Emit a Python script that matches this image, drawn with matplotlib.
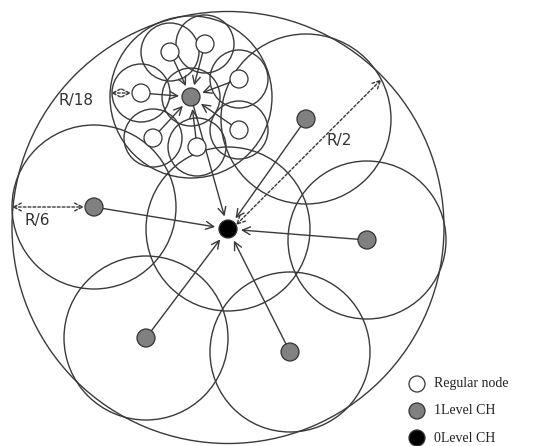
import numpy as np
import matplotlib
matplotlib.use("Agg")
from matplotlib import pyplot as plt
from matplotlib.patches import Circle

# big field
field_center = (228, 227.5)
field_radius = 216

# 0-level cluster head and its cluster circle
sink = (228, 229)
cluster_radius = 82

# 1-level cluster heads (pixel coords of the picture)
ch_x = [94, 191, 306, 367, 146, 290]
ch_y = [207, 97, 119, 240, 338, 352]
ch_r = [82, 81, 85, 79, 82, 80]

# regular nodes of the upper-left cluster
reg_x = [170, 205, 239, 141, 239, 153, 197]
reg_y = [52, 44, 79, 93, 130, 138, 147]
sub_radius = 29
node_radius = 9

legend_labels = ["Regular node", "1Level CH", "0Level CH"]
legend_colors = ["white", "#808080", "black"]

line_col = "#3a3a3a"

fig = plt.figure(figsize=(5.58, 4.46), dpi=100)
ax = fig.add_axes([0, 0, 1, 1])
ax.set_xlim(0, 558)
ax.set_ylim(446, 0)
ax.set_aspect("equal")
ax.axis("off")


def ring(x, y, r, lw=1.0):
    ax.add_patch(Circle((x, y), r, fill=False, ec=line_col, lw=lw, zorder=2))


def node(x, y, color, r=node_radius):
    ax.add_patch(Circle((x, y), r, fc=color, ec="#333333", lw=0.9, zorder=5))


def arrow(x0, y0, x1, y1, r0, r1, style="-", heads="->"):
    d = np.hypot(x1 - x0, y1 - y0)
    ux, uy = (x1 - x0) / d, (y1 - y0) / d
    ax.annotate("", xy=(x1 - ux * r1, y1 - uy * r1), xytext=(x0 + ux * r0, y0 + uy * r0),
                arrowprops=dict(arrowstyle=heads, color=line_col, lw=1.0, linestyle=style,
                                shrinkA=0, shrinkB=0, mutation_scale=14), zorder=4)


ring(*field_center, field_radius)
ring(*sink, cluster_radius)
for x, y, r in zip(ch_x, ch_y, ch_r):
    ring(x, y, r)

# sub clusters in the upper-left cluster
hx, hy = ch_x[1], ch_y[1]
ring(hx, hy, sub_radius)
for x, y in zip(reg_x, reg_y):
    ring(x, y, sub_radius)
    arrow(x, y, hx, hy, node_radius, node_radius + 3)
    node(x, y, "white")

for x, y in zip(ch_x, ch_y):
    arrow(x, y, sink[0], sink[1], node_radius, node_radius + 4)
    node(x, y, "#808080")
node(sink[0], sink[1], "black")

# distance markers
ang = np.deg2rad(44)
ex = field_center[0] + field_radius * np.cos(ang)
ey = field_center[1] - field_radius * np.sin(ang)
arrow(sink[0] + 8, sink[1] - 4, ex - 2, ey + 2, 0, 0, style=(0, (2, 1.5)), heads="<->")
ax.text(327, 145, "R/2", fontsize=11, color="#333333", family="DejaVu Sans")

arrow(12, 207, ch_x[0], ch_y[0], 0, node_radius + 1, style=(0, (2, 1.5)), heads="<->")
ax.text(37, 225, "R/6", fontsize=11, color="#333333", ha="center", family="DejaVu Sans")

arrow(111, 93, reg_x[3], reg_y[3], 0, node_radius + 1, style=(0, (2, 1.5)), heads="<->")
ax.text(93, 105, "R/18", fontsize=11, color="#333333", ha="right", family="DejaVu Sans")

# legend
for i, (lab, col) in enumerate(zip(legend_labels, legend_colors)):
    yy = 384 + i * 27
    node(417, yy, col, r=8)
    ax.text(434, yy, lab, fontsize=10, va="center", family="Liberation Serif", color="#222222")

fig.savefig("out.png", dpi=100)
